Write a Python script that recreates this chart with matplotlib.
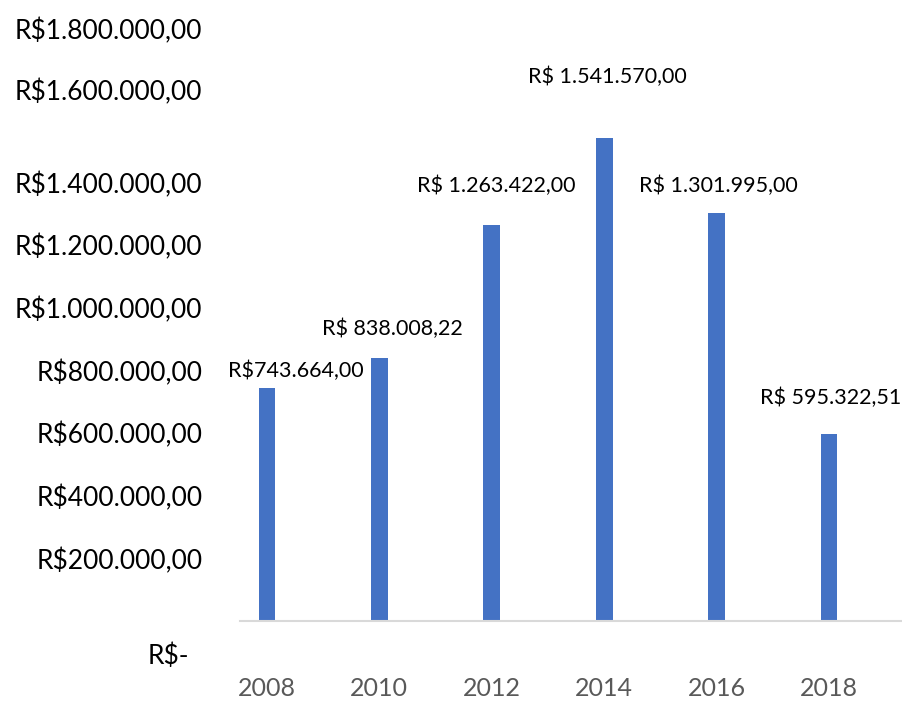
import matplotlib.pyplot as plt
from matplotlib.transforms import ScaledTranslation

anos = ["2008", "2010", "2012", "2014", "2016", "2018"]
valores = [743664.00, 838008.22, 1263422.00, 1541570.00, 1301995.00, 595322.51]
rotulos = ["R$743.664,00", "R$ 838.008,22", "R$ 1.263.422,00",
           "R$ 1.541.570,00", "R$ 1.301.995,00", "R$ 595.322,51"]
ticks_y = [0, 200000, 400000, 600000, 800000, 1000000, 1200000,
           1400000, 1600000, 1800000]
ticks_y_txt = ["R$-", "R$200.000,00", "R$400.000,00", "R$600.000,00",
               "R$800.000,00", "R$1.000.000,00", "R$1.200.000,00",
               "R$1.400.000,00", "R$1.600.000,00", "R$1.800.000,00"]

plt.rcParams['font.family'] = ['Lato', 'DejaVu Sans']

fig = plt.figure(figsize=(9.02, 7.05), dpi=100)
ax = fig.add_axes([240 / 902, 84 / 705, 662 / 902, 621 / 705])

x = list(range(len(anos)))
ax.bar(x, valores, width=0.15, color="#4472C4")
ax.set_xlim(-0.24, 5.65)
ax.set_ylim(0, 1982000)

# deslocamento dos rótulos das barras (pixels)
desloc = [(29, 17), (13, 30), (4, 39), (3, 61), (2, 27), (2, 37)]
for xi, v, txt, (dx, dy) in zip(x, valores, rotulos, desloc):
    ax.annotate(txt, (xi, v), xytext=(dx * 0.72, dy * 0.72),
                textcoords="offset points", ha="center", va="center",
                fontsize=15.5, color="#000000")

ax.set_xticks(x)
ax.set_xticklabels(anos, fontsize=18, color="#595959")
ax.tick_params(axis="x", length=0, pad=40)

ax.set_yticks(ticks_y)
ax.set_yticklabels(ticks_y_txt, fontsize=19, color="#000000")
ax.tick_params(axis="y", length=0, pad=27)

# ajustes manuais de alguns rótulos do eixo y, como no original
ajustes = {0: (-13, -33), 8: (0, 30), 9: (0, 28)}
for i, lab in enumerate(ax.get_yticklabels()):
    if i in ajustes:
        dx, dy = ajustes[i]
        lab.set_transform(lab.get_transform() +
                          ScaledTranslation(dx / 100, dy / 100, fig.dpi_scale_trans))

for s in ["left", "right", "top"]:
    ax.spines[s].set_visible(False)
ax.spines["bottom"].set_color("#D9D9D9")
ax.spines["bottom"].set_linewidth(1.5)

fig.savefig("out.png", dpi=100)
